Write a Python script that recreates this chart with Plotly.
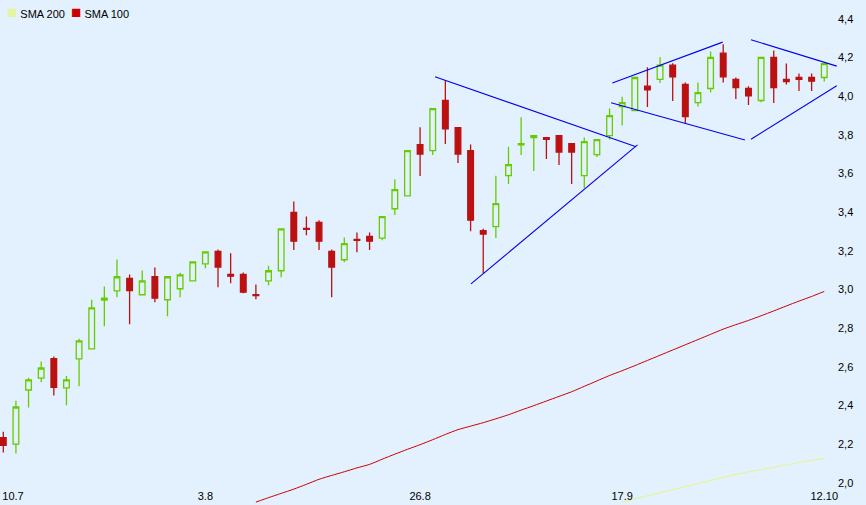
import plotly.graph_objects as go

# ---- data ----
opens = [2.233, 2.200, 2.480, 2.542, 2.642, 2.491, 2.641, 2.693, 2.945, 2.993,
         3.057, 2.973, 3.067, 2.947, 3.004, 3.045, 3.133, 3.197, 3.078, 3.078,
         2.974, 3.045, 3.097, 3.399, 3.316, 3.347, 3.197, 3.154, 3.259, 3.275,
         3.266, 3.418, 3.485, 3.750, 3.719, 3.978, 3.838, 3.719, 3.304, 3.325,
         3.589, 3.748, 3.786, 3.786, 3.796, 3.755, 3.589, 3.698, 3.796, 3.947,
         3.926, 4.052, 4.087, 4.161, 4.061, 3.967, 4.040, 4.223, 4.087, 4.040,
         3.978, 4.201, 4.087, 4.097, 4.097, 4.097]
highs = [2.264, 2.425, 2.544, 2.627, 2.653, 2.553, 2.745, 2.947, 3.016, 3.155,
         3.078, 3.098, 3.114, 3.066, 3.087, 3.143, 3.195, 3.207, 3.187, 3.088,
         3.026, 3.123, 3.314, 3.456, 3.378, 3.358, 3.207, 3.269, 3.295, 3.295,
         3.377, 3.570, 3.719, 3.839, 3.936, 4.083, 3.838, 3.750, 3.315, 3.589,
         3.739, 3.891, 3.796, 3.786, 3.796, 3.755, 3.786, 3.776, 3.936, 3.998,
         4.097, 4.150, 4.202, 4.171, 4.071, 4.071, 4.232, 4.269, 4.097, 4.052,
         4.201, 4.237, 4.169, 4.118, 4.118, 4.169]
lows = [2.157, 2.152, 2.390, 2.520, 2.452, 2.401, 2.499, 2.693, 2.810, 2.960,
        2.820, 2.973, 2.934, 2.862, 2.960, 3.045, 3.110, 3.012, 3.033, 2.981,
        2.950, 3.022, 3.064, 3.204, 3.281, 3.204, 2.960, 3.141, 3.193, 3.204,
        3.255, 3.385, 3.485, 3.587, 3.696, 3.753, 3.654, 3.302, 3.084, 3.266,
        3.546, 3.696, 3.613, 3.675, 3.644, 3.546, 3.525, 3.686, 3.776, 3.848,
        3.926, 3.945, 4.069, 3.976, 3.859, 3.947, 4.019, 4.071, 3.986, 3.955,
        3.969, 3.965, 4.061, 4.027, 4.027, 4.076]
closes = [2.193, 2.392, 2.532, 2.594, 2.494, 2.532, 2.734, 2.905, 2.955, 3.066,
          2.995, 3.045, 2.955, 3.066, 3.076, 3.143, 3.195, 3.116, 3.069, 2.986,
          2.969, 3.097, 3.314, 3.250, 3.311, 3.250, 3.116, 3.237, 3.254, 3.250,
          3.377, 3.517, 3.719, 3.701, 3.936, 3.831, 3.701, 3.359, 3.287, 3.444,
          3.646, 3.755, 3.796, 3.777, 3.711, 3.711, 3.765, 3.776, 3.900, 3.967,
          4.097, 4.033, 4.161, 4.100, 3.895, 4.019, 4.201, 4.100, 4.045, 4.002,
          4.201, 4.045, 4.076, 4.088, 4.078, 4.169]

sma100_start = 20
sma100 = [1.900, 1.923, 1.945, 1.967, 1.992, 2.018, 2.038, 2.057, 2.077, 2.095,
          2.122, 2.148, 2.173, 2.197, 2.223, 2.250, 2.275, 2.293, 2.311, 2.331,
          2.352, 2.376, 2.399, 2.423, 2.447, 2.471, 2.499, 2.527, 2.555, 2.580,
          2.606, 2.633, 2.660, 2.687, 2.714, 2.741, 2.768, 2.795, 2.818, 2.840,
          2.864, 2.889, 2.915, 2.940, 2.964, 2.990]
sma200_start = 49
sma200 = [1.901, 1.917, 1.933, 1.949, 1.965, 1.982, 1.998, 2.014, 2.030, 2.043,
          2.056, 2.069, 2.082, 2.095, 2.105, 2.116, 2.126]

# hand-drawn trend lines (start index, start value, end index, end value)
tl_x0 = [34.18, 37.03, 48.22, 48.12, 59.20, 59.20]
tl_y0 = [4.101, 3.029, 4.068, 3.966, 4.292, 3.777]
tl_x1 = [50.10, 50.21, 56.96, 58.72, 65.99, 65.99]
tl_y1 = [3.739, 3.748, 4.280, 3.774, 4.156, 4.054]

x_tick_pos = [0.77, 16, 33, 49, 65]
x_tick_text = ["10.7", "3.8", "26.8", "17.9", "12.10"]
y_ticks = [2.0, 2.2, 2.4, 2.6, 2.8, 3.0, 3.2, 3.4, 3.6, 3.8, 4.0, 4.2, 4.4]

# ---- styling ----
BG = "#E3F0FD"
GREEN = "#66CC00"
RED = "#BB1111"
SMA100_C = "#CC0000"
SMA200_C = "#E4F4A0"
BLUE = "#0000EE"
FONT = "Liberation Sans, Arial, sans-serif"

idx = list(range(len(opens)))

fig = go.Figure()

fig.add_trace(go.Scatter(
    x=list(range(sma200_start, sma200_start + len(sma200))), y=sma200,
    mode="lines", line=dict(color=SMA200_C, width=1.2), name="SMA 200",
    showlegend=False, hoverinfo="skip"))
fig.add_trace(go.Scatter(
    x=list(range(sma100_start, sma100_start + len(sma100))), y=sma100,
    mode="lines", line=dict(color=SMA100_C, width=1.0, shape="spline", smoothing=0.6),
    name="SMA 100", showlegend=False, hoverinfo="skip"))

fig.add_trace(go.Candlestick(
    x=idx, open=opens, high=highs, low=lows, close=closes,
    increasing=dict(line=dict(color=GREEN, width=1.3), fillcolor="rgba(0,0,0,0)"),
    decreasing=dict(line=dict(color=RED, width=1.3), fillcolor=RED),
    whiskerwidth=0, showlegend=False, hoverinfo="skip"))

lx, ly = [], []
for a, b, c, d in zip(tl_x0, tl_y0, tl_x1, tl_y1):
    lx += [a, c, None]
    ly += [b, d, None]
fig.add_trace(go.Scatter(x=lx, y=ly, mode="lines",
                         line=dict(color=BLUE, width=1.1),
                         showlegend=False, hoverinfo="skip"))

legend_text = (f"<span style='color:{SMA200_C};font-size:17px'>■</span> SMA 200  "
               f"<span style='color:{SMA100_C};font-size:17px'>■</span> SMA 100")
fig.add_annotation(xref="paper", yref="paper", x=0.006, y=1.0,
                   xanchor="left", yanchor="top", yshift=-1,
                   text=legend_text, showarrow=False,
                   font=dict(family=FONT, size=11, color="black"))

W, H = 866, 505
PLOT_R = 837
x_step = 12.63
x0_px = 3.3
xmin = -x0_px / x_step
xmax = xmin + PLOT_R / x_step

fig.update_layout(
    width=W, height=H, autosize=False,
    margin=dict(l=0, r=W - PLOT_R, t=0, b=0, pad=0),
    paper_bgcolor=BG, plot_bgcolor=BG,
    separators=",.",
    showlegend=False,
    boxgap=0.36,
    font=dict(family=FONT, size=11, color="black"),
    xaxis=dict(range=[xmin, xmax], showgrid=False, zeroline=False,
               showline=False, ticks="", tickvals=x_tick_pos,
               ticktext=x_tick_text, ticklabelposition="inside",
               ticklabeloverflow="allow",
               rangeslider=dict(visible=False), fixedrange=True,
               tickfont=dict(family=FONT, size=11, color="black")),
    yaxis=dict(range=[1.885, 4.498], side="right", showgrid=False,
               zeroline=False, showline=False, ticks="",
               tickvals=y_ticks, tickformat=".1f", fixedrange=True,
               tickfont=dict(family=FONT, size=11, color="black")),
)

fig.write_html("out.html", config={"displayModeBar": False, "staticPlot": True},
               post_script="document.body.style.margin='0';")
